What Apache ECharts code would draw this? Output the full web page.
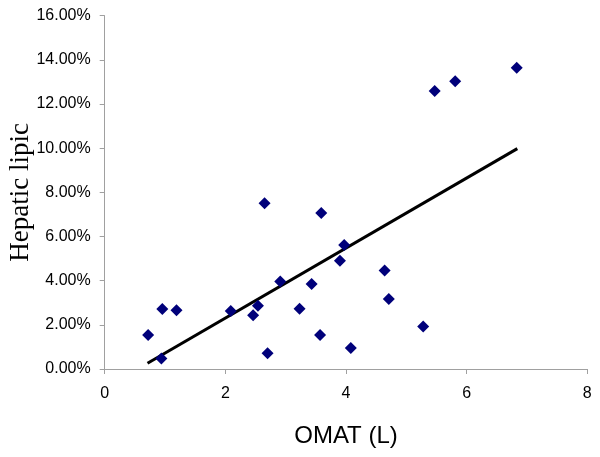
<!DOCTYPE html>
<html>
<head>
<meta charset="utf-8">
<script src="https://cdn.jsdelivr.net/npm/echarts@6/dist/echarts.min.js"></script>
<style>html,body{margin:0;padding:0;background:#fff;}#c{width:600px;height:457px;}</style>
</head>
<body>
<div id="c"></div>
<script>
// OMAT (L)
var omat = [0.72, 0.94, 0.955, 1.19, 2.09, 2.46, 2.54, 2.65, 2.70, 2.91, 3.23, 3.43, 3.57, 3.59, 3.90, 3.97, 4.08, 4.64, 4.71, 5.28, 5.47, 5.81, 6.83];
// Hepatic lipid (%)
var lipid = [1.54, 0.48, 2.72, 2.66, 2.63, 2.43, 2.87, 7.51, 0.71, 3.96, 2.73, 3.85, 1.54, 7.06, 4.90, 5.61, 0.95, 4.46, 3.17, 1.92, 12.59, 13.03, 13.64];
// Trend line endpoints
var trendX = [0.71, 6.84];
var trendY = [0.26, 9.98];
var xTicks = [0, 2, 4, 6, 8];
var yTicks = [0, 2, 4, 6, 8, 10, 12, 14, 16];

var chart = echarts.init(document.getElementById('c'), null, {renderer: 'canvas'});
var pts = omat.map(function (x, i) { return [x, lipid[i]]; });
var trend = trendX.map(function (x, i) { return [x, trendY[i]]; });
var axisCol = '#a0a0a0';
chart.setOption({
  animation: false,
  backgroundColor: '#ffffff',
  grid: {left: 104.7, right: 12.7, top: 15.7, bottom: 88, containLabel: false, outerBoundsMode: 'none'},
  xAxis: {
    type: 'value', min: xTicks[0], max: xTicks[xTicks.length - 1], interval: 2,
    name: 'OMAT (L)', nameLocation: 'middle', nameGap: 55, nameMoveOverlap: false,
    nameTextStyle: {fontFamily: 'Liberation Sans', fontSize: 24, color: '#000'},
    axisLine: {show: true, lineStyle: {color: axisCol, width: 1}},
    axisTick: {show: true, length: 5, lineStyle: {color: axisCol}},
    axisLabel: {fontFamily: 'Liberation Sans', fontSize: 16, color: '#000', margin: 17},
    splitLine: {show: false}
  },
  yAxis: {
    type: 'value', min: yTicks[0], max: yTicks[yTicks.length - 1], interval: 2,
    name: 'Hepatic lipic', nameLocation: 'middle', nameGap: 70, nameRotate: 90, nameMoveOverlap: false,
    nameTextStyle: {fontFamily: 'Liberation Serif', fontSize: 27, color: '#000'},
    axisLine: {show: true, lineStyle: {color: axisCol, width: 1}},
    axisTick: {show: true, length: 5, lineStyle: {color: axisCol}},
    axisLabel: {fontFamily: 'Liberation Sans', fontSize: 16, color: '#000', margin: 14,
      formatter: function (v) { return v.toFixed(2) + '%'; }},
    splitLine: {show: false}
  },
  series: [
    {
      type: 'line', data: trend, symbol: 'none', silent: true,
      lineStyle: {color: '#000', width: 3}, z: 2
    },
    {
      type: 'scatter', data: pts, symbol: 'diamond', symbolSize: 12,
      itemStyle: {color: '#00007a', opacity: 1}, z: 3
    }
  ]
});
</script>
</body>
</html>
